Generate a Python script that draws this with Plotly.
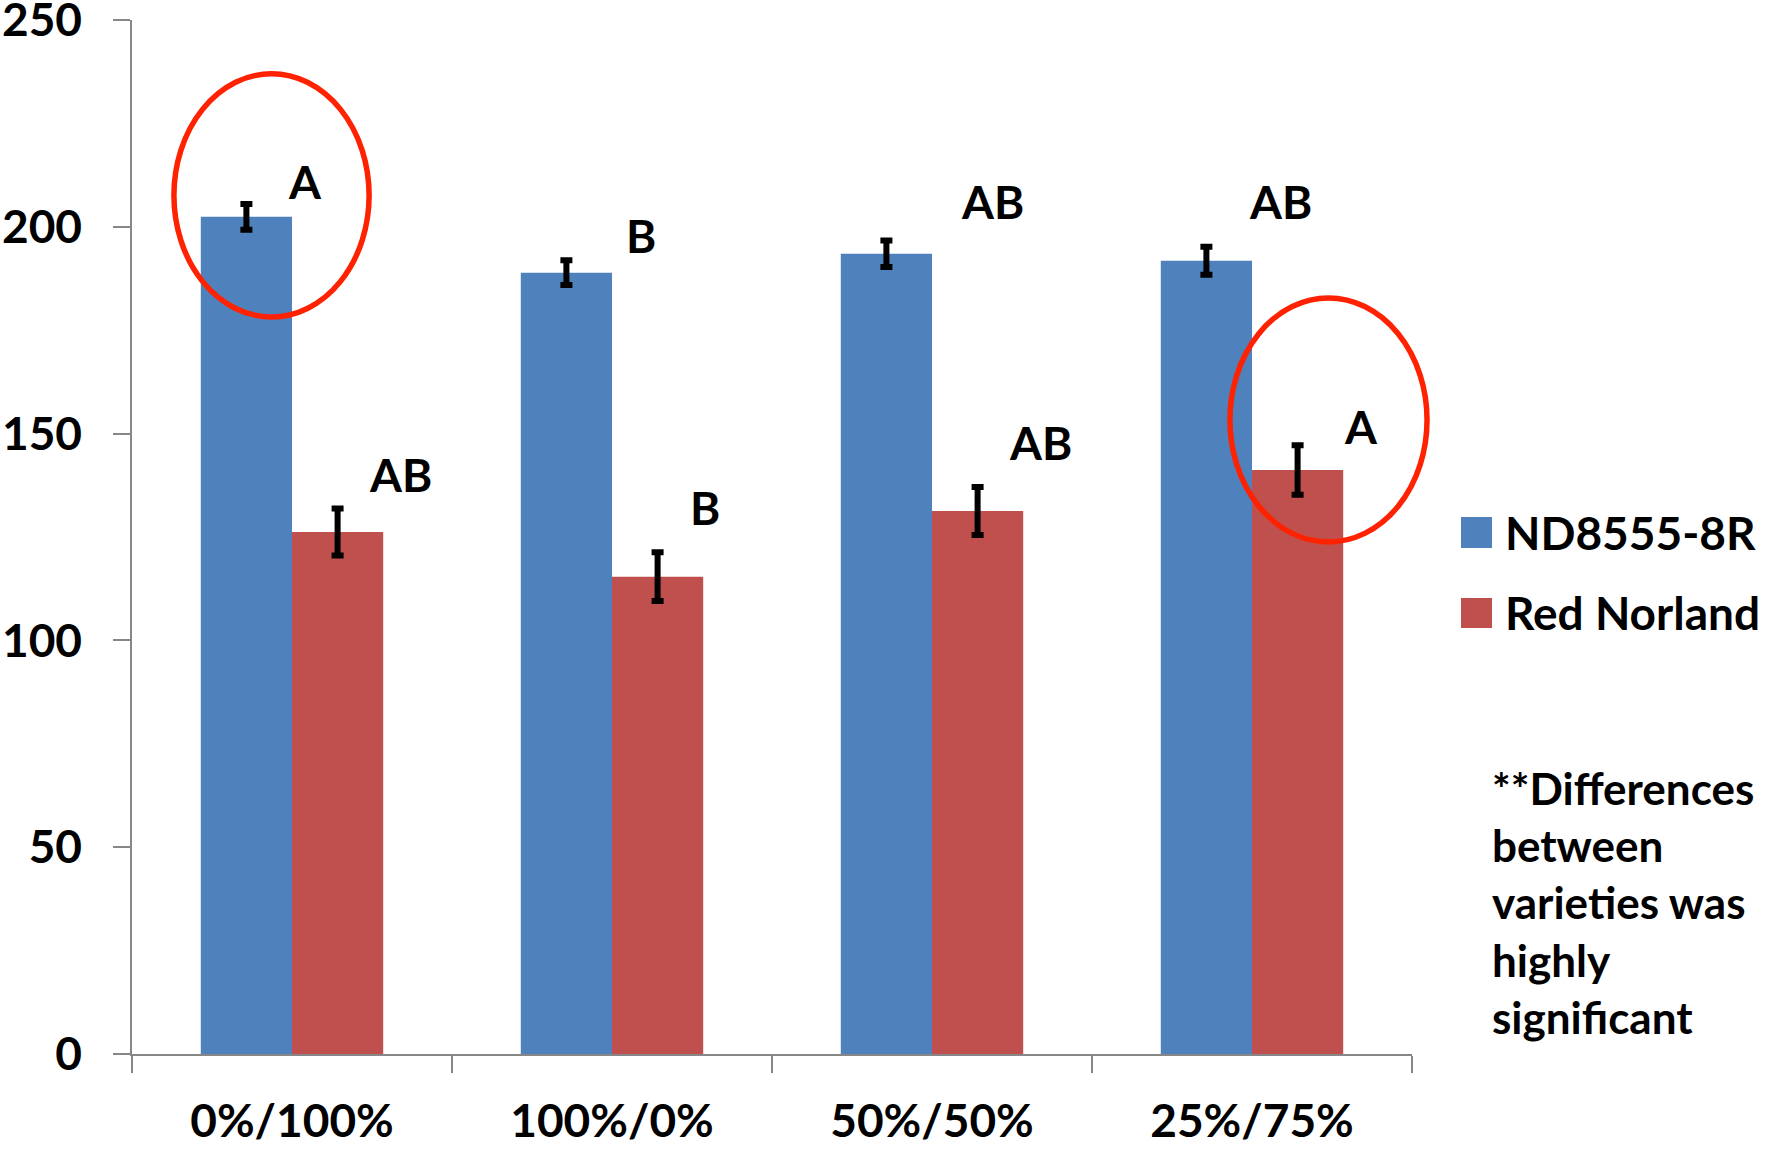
import plotly.graph_objects as go

# ---------------- data ----------------
categories = ["0%/100%", "100%/0%", "50%/50%", "25%/75%"]
series_names = ["ND8555-8R", "Red Norland"]
nd_values = [202.4, 188.9, 193.5, 191.8]
nd_errors = [3.1, 3.0, 3.2, 3.4]
rn_values = [126.2, 115.4, 131.3, 141.2]
rn_errors = [5.7, 5.9, 5.8, 6.0]
nd_letters = ["A", "B", "AB", "AB"]
rn_letters = ["AB", "B", "AB", "A"]
y_ticks = [0, 50, 100, 150, 200, 250]
note_lines = ["**Differences", "between", "varieties was", "highly", "significant"]

# ---------------- style / layout ----------------
BLUE = "#4F81BD"
RED = "#C0504D"
CIRCLE = "#FF2200"
AXIS = "#878787"
FONT = "Lato"

W, H = 1783, 1149
PL, PR, PT, PB = 132, 1412, 20, 1054  # plot box in pixels


def paper_x(px):
    return (px - PL) / (PR - PL)


def paper_y(py):
    return (PB - py) / (PB - PT)


# letter label offsets (category units / value units)
nd_lab_dx = [0.04, 0.09, 0.19, 0.09]
nd_lab_y = [210.9, 198.0, 206.0, 206.0]
rn_lab_dx = [0.34, 0.29, 0.34, 0.34]
rn_lab_y = [140.1, 132.2, 147.9, 151.7]

fig = go.Figure()
fig.add_trace(go.Bar(
    x=categories, y=nd_values, name=series_names[0],
    marker=dict(color=BLUE, line=dict(width=0)),
    error_y=dict(type="data", array=nd_errors, color="black", thickness=6, width=6),
    showlegend=False,
))
fig.add_trace(go.Bar(
    x=categories, y=rn_values, name=series_names[1],
    marker=dict(color=RED, line=dict(width=0)),
    error_y=dict(type="data", array=rn_errors, color="black", thickness=6, width=6),
    showlegend=False,
))

annotations = []
for i in range(len(categories)):
    annotations.append(dict(x=i + nd_lab_dx[i], y=nd_lab_y[i], xref="x", yref="y",
                            text=nd_letters[i], showarrow=False,
                            font=dict(family=FONT, size=46, color="black", weight="bold")))
    annotations.append(dict(x=i + rn_lab_dx[i], y=rn_lab_y[i], xref="x", yref="y",
                            text=rn_letters[i], showarrow=False,
                            font=dict(family=FONT, size=46, color="black", weight="bold")))

# legend (custom, large squares)
legend_items = [(series_names[0], BLUE, 517, 548, 532), (series_names[1], RED, 598, 628, 612)]
shapes = []
for name, col, y0, y1, yc in legend_items:
    shapes.append(dict(type="rect", xref="paper", yref="paper",
                       x0=paper_x(1461), x1=paper_x(1492), y0=paper_y(y1), y1=paper_y(y0),
                       fillcolor=col, line=dict(width=0)))
    annotations.append(dict(x=paper_x(1503), y=paper_y(yc), xref="paper", yref="paper",
                            xanchor="left", yanchor="middle", text=name, showarrow=False,
                            font=dict(family=FONT, size=46, color="black", weight="bold")))

# note
annotations.append(dict(x=paper_x(1490), y=paper_y(760), xref="paper", yref="paper",
                        xanchor="left", yanchor="top", align="left",
                        text="<br>".join(note_lines), showarrow=False,
                        font=dict(family=FONT, size=44, color="black", weight="bold")))


# highlight ellipses (category units / value units -> paper)
def cat_to_paper(c):
    return (c + 0.5) / len(categories)


ellipses = [(-0.369, 0.241, 178.2, 237.0), (2.931, 3.547, 123.8, 182.8)]
for x0, x1, y0, y1 in ellipses:
    shapes.append(dict(type="circle", xref="paper", yref="paper",
                       x0=cat_to_paper(x0), x1=cat_to_paper(x1),
                       y0=y0 / 250, y1=y1 / 250,
                       line=dict(color=CIRCLE, width=5.5)))

fig.update_layout(
    width=W, height=H,
    margin=dict(l=PL, r=W - PR, t=PT, b=H - PB, pad=0, autoexpand=False),
    paper_bgcolor="white", plot_bgcolor="white",
    barmode="group", bargap=0.43, bargroupgap=0,
    showlegend=False,
    annotations=annotations, shapes=shapes,
    font=dict(family=FONT, color="black"),
)
fig.update_xaxes(
    type="category", tickson="boundaries", ticks="outside", ticklen=17,
    tickwidth=1.5, tickcolor=AXIS, showline=True, linecolor=AXIS, linewidth=1.5,
    showgrid=False, zeroline=False, ticklabelstandoff=26, automargin=False,
    ticklabeloverflow="allow",
    tickfont=dict(family=FONT, size=46, color="black", weight="bold"),
)
fig.update_yaxes(
    range=[0, 250], tickvals=y_ticks, ticks="outside", ticklen=17,
    tickwidth=1.5, tickcolor=AXIS, showline=True, linecolor=AXIS, linewidth=1.5,
    showgrid=False, zeroline=False, ticklabelstandoff=22, automargin=False,
    ticklabeloverflow="allow",
    tickfont=dict(family=FONT, size=46, color="black", weight="bold"),
)

fig.write_html(
    "out.html",
    config={"displayModeBar": False},
    post_script="document.body.style.margin='0';document.body.style.overflow='hidden';",
)
